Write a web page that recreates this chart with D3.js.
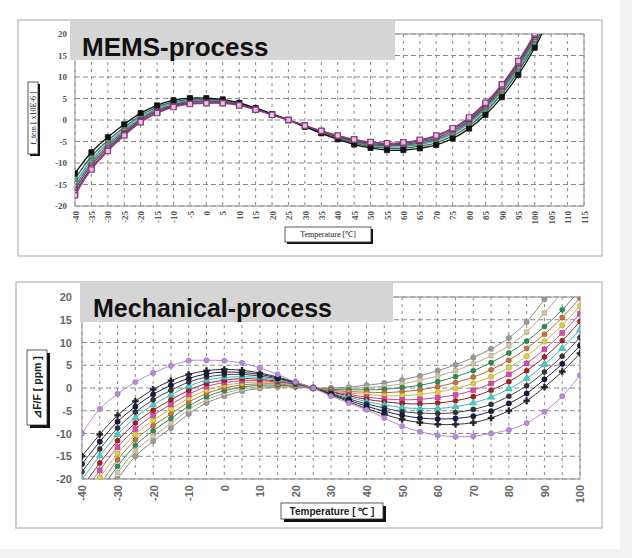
<!DOCTYPE html>
<html><head><meta charset="utf-8">
<script src="https://cdn.jsdelivr.net/npm/d3@7"></script>
<style>body{margin:0;background:#fff;} svg{display:block;}</style>
</head><body>
<svg id="c" width="632" height="558"></svg>
<script>
// ---------- DATA ----------
const memsTemps = [-40,-35,-30,-25,-20,-15,-10,-5,0,5,10,15,20,25,30,35,40,45,50,55,60,65,70,75,80,85,90,95,100,105];
const memsXTicks = [-40,-35,-30,-25,-20,-15,-10,-5,0,5,10,15,20,25,30,35,40,45,50,55,60,65,70,75,80,85,90,95,100,105,110,115];
const yTicks = [-20,-15,-10,-5,0,5,10,15,20];

const memsA = [-12.4,-7.5,-4.0,-1.0,1.6,3.4,4.6,5.1,5.1,4.8,4.0,2.8,1.4,0.0,-1.6,-3.1,-4.5,-5.7,-6.5,-7.0,-7.0,-6.6,-5.8,-4.3,-2.0,1.2,5.3,10.5,16.8,24.5];
const memsB = [-13.7,-8.5,-4.8,-1.7,1.1,3.0,4.2,4.8,4.8,4.6,3.9,2.7,1.4,0.0,-1.5,-3.0,-4.3,-5.4,-6.2,-6.6,-6.6,-6.1,-5.3,-3.7,-1.4,1.9,6.1,11.3,17.6,25.4];
const memsC = [-14.7,-9.3,-5.4,-2.2,0.7,2.6,3.9,4.5,4.6,4.4,3.7,2.6,1.3,0.0,-1.5,-2.8,-4.1,-5.2,-5.9,-6.3,-6.2,-5.7,-4.8,-3.2,-0.8,2.5,6.7,11.9,18.3,26.0];
const memsD = [-15.5,-9.9,-5.9,-2.6,0.3,2.3,3.6,4.3,4.4,4.3,3.6,2.6,1.3,0.0,-1.4,-2.7,-4.0,-5.0,-5.7,-6.0,-5.9,-5.4,-4.5,-2.9,-0.4,2.9,7.1,12.4,18.8,26.5];
const memsE = [-16.2,-10.5,-6.4,-3.0,0.0,2.1,3.4,4.1,4.2,4.1,3.6,2.5,1.3,0.0,-1.4,-2.7,-3.8,-4.8,-5.5,-5.8,-5.7,-5.1,-4.2,-2.5,-0.1,3.3,7.6,12.9,19.3,27.1];
const memsF = [-17.0,-11.1,-6.9,-3.3,-0.3,1.8,3.2,3.8,4.0,4.0,3.5,2.4,1.2,0.0,-1.3,-2.6,-3.7,-4.6,-5.2,-5.6,-5.4,-4.8,-3.8,-2.1,0.3,3.7,8.0,13.4,19.8,27.6];
const memsH = [-17.5,-11.5,-7.2,-3.6,-0.5,1.6,3.0,3.7,3.9,3.9,3.4,2.4,1.2,0.0,-1.3,-2.5,-3.6,-4.5,-5.1,-5.4,-5.2,-4.6,-3.6,-1.9,0.6,4.0,8.3,13.7,20.1,27.9];

const mechTemps = [-40,-35,-30,-25,-20,-15,-10,-5,0,5,10,15,20,25,30,35,40,45,50,55,60,65,70,75,80,85,90,95,100];
const mechXTicks = [-40,-30,-20,-10,0,10,20,30,40,50,60,70,80,90,100];

const mechP = [-15.0,-10.2,-6.0,-2.9,-0.3,1.6,3.0,3.8,4.1,3.9,3.3,2.4,1.3,0.0,-1.5,-3.0,-4.5,-5.8,-6.9,-7.6,-8.0,-8.0,-7.6,-6.6,-5.0,-2.8,0.2,3.6,7.6];
const mech1 = [-16.7,-11.8,-7.4,-4.1,-1.4,0.6,2.1,3.1,3.5,3.4,3.0,2.2,1.2,0.0,-1.4,-2.7,-4.0,-5.1,-6.0,-6.6,-6.8,-6.7,-6.2,-5.1,-3.4,-1.2,1.9,5.3,9.3];
const mech2 = [-18.4,-13.4,-8.8,-5.3,-2.6,-0.5,1.3,2.4,2.9,3.0,2.6,2.0,1.1,0.0,-1.2,-2.4,-3.5,-4.4,-5.2,-5.5,-5.6,-5.4,-4.7,-3.6,-1.8,0.5,3.5,7.0,11.1];
const mech3 = [-20.1,-14.9,-10.2,-6.5,-3.7,-1.5,0.4,1.7,2.3,2.5,2.3,1.7,1.0,0.0,-1.1,-2.0,-3.0,-3.7,-4.3,-4.5,-4.5,-4.1,-3.3,-2.0,-0.2,2.1,5.2,8.7,12.8];
const mech4 = [-21.8,-16.5,-11.6,-7.7,-4.9,-2.6,-0.5,1.0,1.7,2.1,1.9,1.5,0.9,0.0,-0.9,-1.7,-2.5,-3.0,-3.4,-3.5,-3.3,-2.8,-1.9,-0.5,1.4,3.8,6.8,10.4,14.6];
const mech5 = [-23.5,-18.1,-13.0,-9.0,-6.0,-3.6,-1.4,0.3,1.2,1.6,1.6,1.3,0.8,0.0,-0.8,-1.4,-2.0,-2.4,-2.6,-2.5,-2.1,-1.5,-0.5,1.0,3.0,5.4,8.5,12.1,16.3];
const mech6 = [-25.2,-19.7,-14.4,-10.2,-7.1,-4.6,-2.2,-0.5,0.6,1.1,1.3,1.1,0.6,0.0,-0.6,-1.1,-1.4,-1.7,-1.7,-1.4,-0.9,-0.1,1.0,2.5,4.5,7.0,10.2,13.8,18.0];
const mech7 = [-26.9,-21.3,-15.8,-11.4,-8.3,-5.7,-3.1,-1.2,0.0,0.7,0.9,0.9,0.5,0.0,-0.5,-0.8,-0.9,-1.0,-0.8,-0.4,0.3,1.2,2.4,4.0,6.1,8.7,11.8,15.5,19.8];
const mech8 = [-28.6,-22.8,-17.2,-12.6,-9.4,-6.7,-4.0,-1.9,-0.6,0.2,0.6,0.6,0.4,0.0,-0.3,-0.4,-0.4,-0.3,0.1,0.6,1.4,2.5,3.8,5.6,7.7,10.3,13.5,17.2,21.5];
const mech9 = [-30.3,-24.4,-18.6,-13.8,-10.6,-7.8,-4.8,-2.6,-1.2,-0.2,0.2,0.4,0.3,0.0,-0.2,-0.1,0.1,0.4,0.9,1.7,2.6,3.8,5.3,7.1,9.3,12.3,16.5,21.0,26.0];
const mechQ = [-32.0,-26.0,-20.0,-15.0,-11.7,-8.8,-5.7,-3.3,-1.8,-0.7,-0.1,0.2,0.2,0.0,0.0,0.2,0.6,1.1,1.8,2.7,3.8,5.1,6.7,8.6,11.0,14.5,19.5,25.0,31.0];
const mechV = [-10.0,-4.6,-1.3,1.3,3.3,4.9,6.0,6.1,6.0,5.5,4.4,3.0,1.3,0.0,-1.8,-3.3,-4.8,-6.6,-8.4,-9.6,-10.4,-10.7,-10.6,-10.0,-9.2,-7.7,-5.2,-1.8,2.8];

// ---------- DRAW ----------
const svg = d3.select('#c');
const defs = svg.append('defs');
svg.append('rect').attr('width',632).attr('height',558).attr('fill','#fff');
svg.append('rect').attr('x',620).attr('y',0).attr('width',12).attr('height',558).attr('fill','#f2f2f2');
svg.append('rect').attr('x',0).attr('y',549).attr('width',632).attr('height',9).attr('fill','#f2f2f2');

// outer frames
svg.append('rect').attr('x',18).attr('y',20).attr('width',584).attr('height',236)
  .attr('fill','#fff').attr('stroke','#c4c4c4').attr('stroke-width',1.5);
svg.append('rect').attr('x',16).attr('y',282).attr('width',586).attr('height',246)
  .attr('fill','#fff').attr('stroke','#c4c4c4').attr('stroke-width',1.5);

function boxLabel(bx, by, bw, bh, text, font, size, weight, rotated, sh) {
  svg.append('rect').attr('x',bx+sh).attr('y',by+sh).attr('width',bw).attr('height',bh).attr('fill','#111');
  svg.append('rect').attr('x',bx).attr('y',by).attr('width',bw).attr('height',bh)
    .attr('fill','#fff').attr('stroke','#333').attr('stroke-width',0.8);
  const cx = bx + bw/2, cy = by + bh/2;
  svg.append('text').attr('x',0).attr('y',0)
    .attr('transform', rotated ? `translate(${cx},${cy}) rotate(-90)` : `translate(${cx},${cy})`)
    .attr('text-anchor','middle').attr('dominant-baseline','central')
    .attr('font-family',font).attr('font-size',size).attr('font-weight',weight)
    .attr('fill','#222').text(text);
}

function plot(o) {
  const x = d3.scaleLinear().domain(o.xDomain).range([o.left, o.right]);
  const y = d3.scaleLinear().domain([-20, 20]).range([o.bottom, o.top]);
  const g = svg.append('g');
  g.selectAll(null).data(o.gridX).join('line')
    .attr('x1',d=>x(d)).attr('x2',d=>x(d)).attr('y1',o.top).attr('y2',o.bottom)
    .attr('stroke','#8a8a8a').attr('stroke-width',1).attr('stroke-dasharray','3,4');
  g.selectAll(null).data(yTicks).join('line')
    .attr('x1',o.left).attr('x2',o.right).attr('y1',d=>y(d)).attr('y2',d=>y(d))
    .attr('stroke','#8a8a8a').attr('stroke-width',1).attr('stroke-dasharray','5,3');
  g.append('rect').attr('x',o.left).attr('y',o.top).attr('width',o.right-o.left).attr('height',o.bottom-o.top)
    .attr('fill','none').attr('stroke','#a0a0a0').attr('stroke-width',1.2);

  defs.append('clipPath').attr('id','clip'+o.id).append('rect')
    .attr('x',o.left).attr('y',o.top).attr('width',o.right-o.left).attr('height',o.bottom-o.top);
  const sg = g.append('g').attr('clip-path',`url(#clip${o.id})`);
  const line = d3.line().x(d=>x(d[0])).y(d=>y(d[1])).curve(d3.curveCatmullRom.alpha(0.5));
  o.series.forEach(s => {
    const pts = o.temps.map((t,i)=>[t, s.values[i]]);
    sg.append('path').datum(pts).attr('d', line).attr('fill','none')
      .attr('stroke', s.color).attr('stroke-width', o.lw);
    sg.selectAll(null).data(pts).join('path')
      .attr('transform', d=>`translate(${x(d[0])},${y(d[1])})`)
      .attr('d', d3.symbol().type(s.symbol).size(s.size))
      .attr('fill', s.fill).attr('stroke', s.stroke).attr('stroke-width', s.sw);
  });

  // title box
  g.append('rect').attr('x',o.titleBox[0]).attr('y',o.titleBox[1]).attr('width',o.titleBox[2]).attr('height',o.titleBox[3])
    .attr('fill','#d5d5d5');
  g.append('text').attr('x',o.titlePos[0]).attr('y',o.titlePos[1])
    .attr('font-family','Liberation Sans, Arial, sans-serif').attr('font-weight','bold')
    .attr('font-size',o.titleSize).attr('fill','#111').text(o.title);

  // axes
  const ya = g.append('g').attr('transform',`translate(${o.left},0)`)
    .call(d3.axisLeft(y).tickValues(yTicks).tickSize(0).tickPadding(o.yPad).tickFormat(d=>d));
  ya.select('.domain').remove();
  ya.selectAll('text').attr('font-family',o.tickFont).attr('font-size',o.tickSize)
    .attr('font-weight',o.tickWeight).attr('fill',o.tickColor);
  const xa = g.append('g').attr('transform',`translate(0,${o.bottom})`)
    .call(d3.axisBottom(x).tickValues(o.xTicks).tickSize(0).tickFormat(d=>d));
  xa.select('.domain').remove();
  xa.selectAll('text').attr('transform','rotate(-90)').attr('text-anchor','end')
    .attr('x',-o.xPad).attr('y',0).attr('dy','0.35em')
    .attr('font-family',o.tickFont).attr('font-size',o.tickSize)
    .attr('font-weight',o.tickWeight).attr('fill',o.tickColor);
}

const sq = d3.symbolSquare, ci = d3.symbolCircle, cr = d3.symbolCross, tr = d3.symbolTriangle;

plot({
  id:'mems', xDomain:[-40,115], left:75, right:584, top:34, bottom:206,
  temps: memsTemps, gridX: memsXTicks, xTicks: memsXTicks, lw:1.3,
  series:[
    {values:memsC, color:'#3aaab4', symbol:sq, size:22, fill:'#7fd0d6', stroke:'#3aaab4', sw:0.8},
    {values:memsB, color:'#2f6e5a', symbol:sq, size:22, fill:'#5e9a86', stroke:'#2f6e5a', sw:0.8},
    {values:memsD, color:'#6e6a34', symbol:sq, size:22, fill:'#a8a468', stroke:'#6e6a34', sw:0.8},
    {values:memsE, color:'#4a4a96', symbol:sq, size:22, fill:'#8c8cc4', stroke:'#4a4a96', sw:0.8},
    {values:memsA, color:'#111111', symbol:sq, size:26, fill:'#111', stroke:'#111', sw:0.8},
    {values:memsF, color:'#7a2c66', symbol:sq, size:28, fill:'#d8b4d0', stroke:'#7a2c66', sw:1.2},
    {values:memsH, color:'#8e3a80', symbol:sq, size:28, fill:'#e2c4dc', stroke:'#8e3a80', sw:1.2}
  ],
  titleBox:[70,20,325,40], titlePos:[82,56], titleSize:26, title:'MEMS-process',
  tickFont:'Liberation Serif, serif', tickSize:9, tickWeight:'bold', tickColor:'#555', yPad:8, xPad:5
});

plot({
  id:'mech', xDomain:[-40,100], left:82, right:580, top:297, bottom:479,
  temps: mechTemps, gridX: mechTemps, xTicks: mechXTicks, lw:1,
  series:[
    {values:mechQ, color:'#8c8c8c', symbol:ci, size:22, fill:'#9a9a9a', stroke:'#7a7a7a', sw:0.5},
    {values:mech9, color:'#b8a98a', symbol:sq, size:20, fill:'#d4c6a0', stroke:'#a8966a', sw:0.5},
    {values:mech8, color:'#2e8a56', symbol:ci, size:20, fill:'#2e8a56', stroke:'#1e6a3e', sw:0.5},
    {values:mech7, color:'#b8663a', symbol:ci, size:20, fill:'#c87040', stroke:'#8a4a28', sw:0.5},
    {values:mech6, color:'#c8b848', symbol:ci, size:22, fill:'#e0d040', stroke:'#a09020', sw:0.5},
    {values:mech5, color:'#c8409a', symbol:sq, size:24, fill:'#d84aa8', stroke:'#a02a7a', sw:0.5},
    {values:mech4, color:'#9a2020', symbol:ci, size:20, fill:'#a82020', stroke:'#701010', sw:0.5},
    {values:mech3, color:'#40b8bc', symbol:tr, size:22, fill:'#4cc8cc', stroke:'#2a9a9e', sw:0.5},
    {values:mech2, color:'#444444', symbol:ci, size:20, fill:'#333', stroke:'#222', sw:0.5},
    {values:mech1, color:'#1c2250', symbol:ci, size:22, fill:'#141a44', stroke:'#0a0e2a', sw:0.5},
    {values:mechP, color:'#333333', symbol:cr, size:22, fill:'#222', stroke:'#222', sw:0.3},
    {values:mechV, color:'#b88ad6', symbol:ci, size:22, fill:'#b88ad6', stroke:'#9a6abc', sw:0.5}
  ],
  titleBox:[80,283,313,39], titlePos:[93,317], titleSize:25, title:'Mechanical-process',
  tickFont:'Liberation Sans, Arial, sans-serif', tickSize:11, tickWeight:'bold', tickColor:'#666', yPad:10, xPad:6
});

// axis titles
boxLabel(28, 82, 10, 72, 'f_tem [ x10E-6 ]', 'Liberation Serif, serif', 8, 'normal', true, 2);
boxLabel(285, 227, 86, 15, 'Temperature [℃]', 'Liberation Serif, serif', 8, 'normal', false, 2);
boxLabel(27, 350, 20, 75, '⊿F/F [ ppm ]', 'Liberation Sans, Arial, sans-serif', 10.5, 'bold', true, 3);
boxLabel(281, 503, 102, 16, 'Temperature [ ℃ ]', 'Liberation Sans, Arial, sans-serif', 10, 'bold', false, 3);
</script>
</body></html>
